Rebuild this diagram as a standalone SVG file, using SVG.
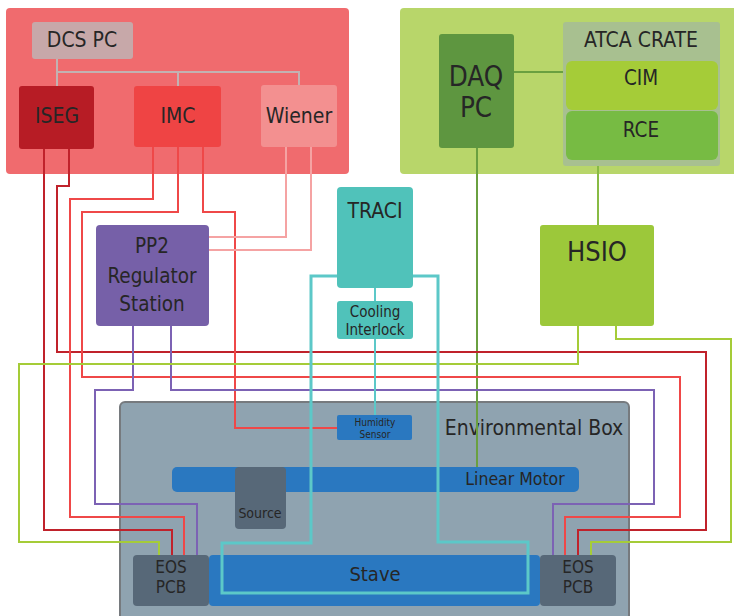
<svg xmlns="http://www.w3.org/2000/svg" width="734" height="616" viewBox="0 0 734 616">
<style>
text{font-family:"DejaVu Sans Condensed","DejaVu Sans",sans-serif;font-stretch:condensed;fill:#262626;text-anchor:middle}
.w{fill:none;stroke-width:2}
.dr{stroke:#C0222B}.rd{stroke:#EF4848}.pk{stroke:#F5A3A3}.pu{stroke:#7C62B4}.gr{stroke:#A5CC38}.dg{stroke:#6AA040}.bus{stroke:#C2B2B2}
.tl{fill:none;stroke:#5CC8C8;stroke-width:3}
</style>
<rect width="734" height="616" fill="#fff"/>
<g id="dcs-area"><rect x="6" y="8" width="343" height="166" rx="4" fill="#F06B6E"/></g>
<g id="daq-area"><rect x="400" y="8" width="340" height="166" rx="4" fill="#B8D66A"/></g>
<g id="env-box"><rect x="120" y="402" width="509" height="230" rx="5" fill="#8FA3B0" stroke="#767a7e" stroke-width="2"/>
<text x="534" y="435" font-size="21">Environmental Box</text></g>

<g id="connectors">
<polyline class="w bus" points="57,59 57,86"/>
<polyline class="w bus" points="57,72 299,72 299,86"/>
<polyline class="w bus" points="178,72 178,86"/>
<polyline class="w dg" points="514,72 566,72"/>
<polyline class="w dg" points="477,148 477,467"/>
<polyline class="w" stroke="#88BB44" points="598,160 598,225"/>
<polyline class="w dr" points="44,149 44,530 172,530 172,555"/>
<polyline class="w dr" points="69,149 69,186 57,186 57,352 706,352 706,530 578,530 578,555"/>
<polyline class="w rd" points="153,147 153,199 70,199 70,517 184,517 184,555"/>
<polyline class="w rd" points="178,147 178,212 82,212 82,377 680,377 680,517 565,517 565,555"/>
<polyline class="w rd" points="203,147 203,212 235,212 235,428 337,428"/>
<polyline class="w pk" points="286,147 286,237 209,237"/>
<polyline class="w pk" points="311,147 311,250 209,250"/>
<polyline class="w pu" points="133,326 133,390 95,390 95,504 197,504 197,555"/>
<polyline class="w pu" points="171,326 171,390 654,390 654,504 553,504 553,555"/>
<polyline class="w gr" points="578,326 578,364 19,364 19,542 159,542 159,555"/>
<polyline class="w gr" points="616,326 616,339 731,339 731,542 591,542 591,555"/>
<polyline class="w" stroke="#5CC8C8" points="375,288 375,301"/>
<polyline class="w" stroke="#5CC8C8" points="375,339 375,415"/>
</g>

<g id="dcs-pc"><rect x="32" y="22" width="101" height="37" rx="3" fill="#C7A8A9"/><text x="82" y="47" font-size="21">DCS PC</text></g>
<g id="iseg"><rect x="19" y="86" width="75" height="63" rx="3" fill="#B71C25"/><text x="57" y="123" font-size="21">ISEG</text></g>
<g id="imc"><rect x="134" y="86" width="87" height="61" rx="3" fill="#EF4444"/><text x="178" y="123" font-size="21">IMC</text></g>
<g id="wiener"><rect x="261" y="85" width="76" height="62" rx="3" fill="#F39090"/><text x="299" y="123" font-size="21">Wiener</text></g>

<g id="daq-pc"><rect x="439" y="34" width="75" height="114" rx="3" fill="#5E9640"/><text x="476" y="86" font-size="27.5">DAQ</text><text x="476" y="117" font-size="27.5">PC</text></g>
<g id="atca-crate"><rect x="563" y="22" width="157" height="144" rx="3" fill="#A8C090"/><text x="641" y="47" font-size="21">ATCA CRATE</text></g>
<g id="cim"><rect x="566" y="61" width="152" height="49" rx="6" fill="#A5CC38"/><text x="641" y="85" font-size="20.5">CIM</text></g>
<g id="rce"><rect x="566" y="111" width="152" height="49" rx="6" fill="#77BB43"/><text x="641" y="137" font-size="20.5">RCE</text></g>

<g id="hsio"><rect x="540" y="225" width="114" height="101" rx="3" fill="#9CC83A"/><text x="597" y="261" font-size="27">HSIO</text></g>
<g id="pp2"><rect x="96" y="225" width="113" height="101" rx="4" fill="#7660A8"/><text x="152" y="253" font-size="20.5">PP2</text><text x="152" y="283" font-size="20.5">Regulator</text><text x="152" y="311" font-size="20.5">Station</text></g>
<g id="traci"><rect x="337" y="187" width="76" height="101" rx="4" fill="#50C2BA"/><text x="375" y="218" font-size="21">TRACI</text></g>
<g id="cooling-interlock"><rect x="337" y="301" width="76" height="38" rx="3" fill="#50C2BA"/><text x="375" y="316.5" font-size="15">Cooling</text><text x="375" y="334.5" font-size="15">Interlock</text></g>
<g id="humidity-sensor"><rect x="337" y="415" width="75" height="25" rx="2" fill="#2A78C0"/><text x="375" y="425.5" font-size="10">Humidity</text><text x="375" y="437.5" font-size="10">Sensor</text></g>

<g id="linear-motor"><rect x="172" y="467" width="407" height="25" rx="5" fill="#2A78C0"/><text x="515" y="485" font-size="17.5">Linear Motor</text></g>
<g id="source"><rect x="235" y="467" width="51" height="62" rx="4" fill="#576878"/><text x="260" y="518" font-size="14">Source</text></g>
<g id="stave"><rect x="209" y="555" width="331" height="51" rx="4" fill="#2A78C0"/><text x="375" y="581" font-size="20">Stave</text></g>
<g id="eos-pcb-left"><rect x="133" y="555" width="76" height="51" rx="4" fill="#576878"/><text x="171" y="573" font-size="17">EOS</text><text x="171" y="593" font-size="17">PCB</text></g>
<g id="eos-pcb-right"><rect x="540" y="555" width="76" height="51" rx="4" fill="#576878"/><text x="578" y="573" font-size="17">EOS</text><text x="578" y="593" font-size="17">PCB</text></g>

<g id="cooling-loop"><polyline class="tl" points="337,276 311,276 311,543 222,543 222,593 528,593 528,542 438,542 438,276 413,276"/></g>
</svg>
